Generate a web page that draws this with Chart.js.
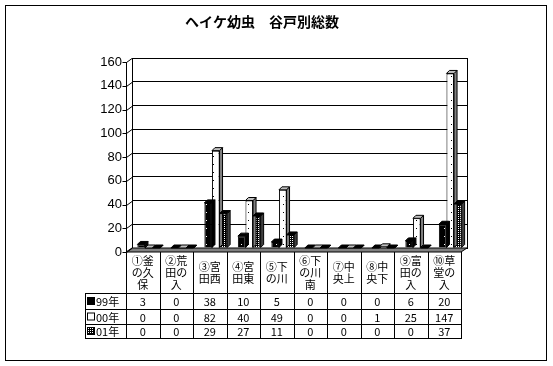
<!DOCTYPE html>
<html>
<head>
<meta charset="utf-8">
<script src="https://cdn.jsdelivr.net/npm/chart.js@4/dist/chart.umd.min.js"></script>
<style>
  body { margin: 0; background: #fff; }
  #wrap { width: 553px; height: 366px; }
</style>
</head>
<body>
<div id="wrap"><canvas id="myChart" width="553" height="366"></canvas></div>
<script>
var title = "ヘイケ幼虫　谷戸別総数";

// category labels, one entry per line of the table header
var categories = [
    ["①釜", "の久", "保"],
    ["②荒", "田の", "入"],
    ["③宮", "田西"],
    ["④宮", "田東"],
    ["⑤下", "の川"],
    ["⑥下", "の川", "南"],
    ["⑦中", "央上"],
    ["⑧中", "央下"],
    ["⑨富", "田の", "入"],
    ["⑩草", "堂の", "入"]
];

var seriesNames = ["99年", "00年", "01年"];
var values99 = [3, 0, 38, 10, 5, 0, 0, 0, 6, 20];
var values00 = [0, 0, 82, 40, 49, 0, 0, 1, 25, 147];
var values01 = [0, 0, 29, 27, 11, 0, 0, 0, 0, 37];
var yTicks = [0, 20, 40, 60, 80, 100, 120, 140, 160];

var DX = 6, DY = 4;   // 3d depth offset

function makePattern(w, h, bg, fg, dots) {
    var c = document.createElement("canvas");
    c.width = w; c.height = h;
    var g = c.getContext("2d");
    g.fillStyle = bg;
    g.fillRect(0, 0, w, h);
    g.fillStyle = fg;
    for (let i = 0; i < dots.length; i++) {
        g.fillRect(dots[i][0], dots[i][1], 1, 1);
    }
    return g.createPattern(c, "repeat");
}

var ctx = document.getElementById("myChart").getContext("2d");
var fills = [
    makePattern(7, 8, "#000", "#fff", [[3, 4]]),
    makePattern(7, 8, "#fff", "#000", [[3, 4]]),
    makePattern(2, 2, "#000", "#fff", [[0, 0]])
];
var sideColors = ["#000", "#808080", "#404040"];

var font = "'Noto Sans CJK JP', sans-serif";

var deco = {
    id: "deco",
    beforeDatasetsDraw: function (chart) {
        var c = chart.ctx, a = chart.chartArea;
        c.save();
        // back wall border
        c.strokeStyle = "#000";
        c.lineWidth = 1;
        c.strokeRect(a.left + 0.5, a.top + 0.5, a.right - a.left, a.bottom - a.top);
        // floor
        c.fillStyle = "#808080";
        c.beginPath();
        c.moveTo(a.left, a.bottom);
        c.lineTo(a.right, a.bottom);
        c.lineTo(a.right - DX, a.bottom + DY);
        c.lineTo(a.left - DX, a.bottom + DY);
        c.closePath();
        c.fill();
        c.stroke();
        // front y axis with ticks
        var y = chart.scales.y;
        var ax = a.left - DX + 0.5;
        c.beginPath();
        c.moveTo(ax, a.top + DY);
        c.lineTo(ax, a.bottom + DY);
        for (let i = 0; i < yTicks.length; i++) {
            var py = Math.round(y.getPixelForValue(yTicks[i])) + 0.5;
            c.moveTo(ax - 4, py + DY);
            c.lineTo(ax, py + DY);
            c.lineTo(a.left, py);
        }
        c.stroke();
        c.restore();
    },
    afterDatasetsDraw: function (chart) {
        var c = chart.ctx;
        c.save();
        c.strokeStyle = "#000";
        c.lineWidth = 1;
        var d = 3;
        for (let s = 0; s < chart.data.datasets.length; s++) {
            var bars = chart.getDatasetMeta(s).data;
            for (let i = 0; i < bars.length; i++) {
                var b = bars[i];
                var l = b.x - b.width / 2, r = b.x + b.width / 2;
                var t = b.y, bot = b.base;
                // right side
                c.fillStyle = sideColors[s];
                c.beginPath();
                c.moveTo(r, bot);
                c.lineTo(r + d, bot - d);
                c.lineTo(r + d, t - d);
                c.lineTo(r, t);
                c.closePath();
                c.fill();
                c.stroke();
                // top
                c.fillStyle = s == 1 ? "#c0c0c0" : "#000";
                c.beginPath();
                c.moveTo(l, t);
                c.lineTo(l + d, t - d);
                c.lineTo(r + d, t - d);
                c.lineTo(r, t);
                c.closePath();
                c.fill();
                c.stroke();
            }
        }
        c.restore();
    },
    afterDraw: function (chart) {
        var c = chart.ctx, a = chart.chartArea;
        var x = chart.scales.x;
        var w = (a.right - a.left) / categories.length;
        var top = a.bottom + DY;
        var rows = [293, 309, 324, 338];
        var labelLeft = 85;
        var tLeft = a.left - DX;
        var tRight = a.right - DX;
        c.save();
        c.strokeStyle = "#000";
        c.lineWidth = 1;
        // title
        c.fillStyle = "#000";
        c.font = "bold 14px " + font;
        c.textAlign = "center";
        c.textBaseline = "middle";
        c.fillText(title, 262, 22);
        // outer frame
        c.strokeRect(5.5, 5.5, 541, 355);
        // table grid
        c.beginPath();
        for (let i = 0; i <= categories.length; i++) {
            var vx = Math.round(tLeft + i * w) + 0.5;
            c.moveTo(vx, top);
            c.lineTo(vx, rows[3]);
        }
        c.moveTo(labelLeft + 0.5, rows[0]);
        c.lineTo(labelLeft + 0.5, rows[3]);
        for (let r = 0; r < rows.length; r++) {
            c.moveTo(labelLeft, rows[r] + 0.5);
            c.lineTo(tRight + 1, rows[r] + 0.5);
        }
        c.stroke();
        // header labels
        c.font = "11px " + font;
        for (let i = 0; i < categories.length; i++) {
            var cx = x.getPixelForValue(i) - DX;
            var lines = categories[i];
            var y0 = 273 - (lines.length - 1) * 12 / 2;
            for (let k = 0; k < lines.length; k++) {
                c.fillText(lines[k], cx, y0 + k * 12);
            }
        }
        // values
        var data = [values99, values00, values01];
        for (let s = 0; s < data.length; s++) {
            var cy = (rows[s] + rows[s + 1]) / 2 + 1;
            for (let i = 0; i < data[s].length; i++) {
                c.fillText(String(data[s][i]), x.getPixelForValue(i) - DX, cy);
            }
            // legend key
            c.fillStyle = fills[s];
            c.fillRect(87.5, cy - 4.5, 7, 7);
            c.strokeRect(87.5, cy - 4.5, 7, 7);
            c.fillStyle = "#000";
            c.textAlign = "left";
            c.fillText(seriesNames[s], 96, cy);
            c.textAlign = "center";
        }
        c.restore();
    }
};

var chart = new Chart(ctx, {
    type: "bar",
    data: {
        labels: categories,
        datasets: [{
            label: seriesNames[0],
            data: values99,
            backgroundColor: fills[0],
            borderColor: "#000",
            borderWidth: 1
        }, {
            label: seriesNames[1],
            data: values00,
            backgroundColor: fills[1],
            borderColor: "#000",
            borderWidth: 1
        }, {
            label: seriesNames[2],
            data: values01,
            backgroundColor: fills[2],
            borderColor: "#000",
            borderWidth: 1
        }]
    },
    options: {
        responsive: false,
        animation: false,
        layout: { padding: { top: 58, right: 86, bottom: 118, left: 92 } },
        categoryPercentage: 0.68,
        barPercentage: 1.0,
        scales: {
            x: { display: false },
            y: {
                min: 0,
                max: 160,
                afterFit: function (scale) { scale.width = 40; },
                ticks: {
                    stepSize: 20,
                    padding: 10,
                    labelOffset: DY,
                    color: "#000",
                    font: { family: "'Liberation Sans', sans-serif", size: 13 }
                },
                grid: { color: "#000", drawTicks: false },
                border: { display: false }
            }
        },
        plugins: {
            legend: { display: false },
            tooltip: { enabled: false }
        }
    },
    plugins: [deco]
});
</script>
</body>
</html>
